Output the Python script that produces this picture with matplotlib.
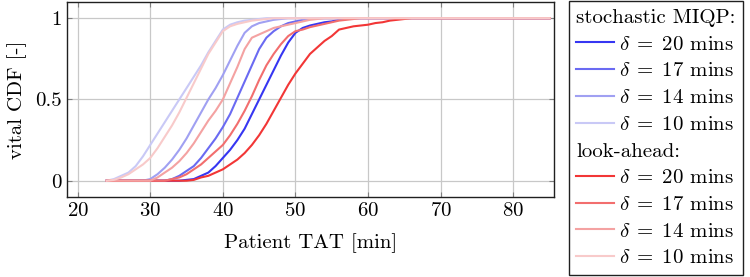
import matplotlib
matplotlib.use("Agg")
import matplotlib.pyplot as plt
from matplotlib.lines import Line2D

plt.rcParams["font.family"] = "cmr10"
plt.rcParams["mathtext.fontset"] = "cm"
plt.rcParams["axes.formatter.use_mathtext"] = True
plt.rcParams["font.size"] = 15

# patient turnaround time grid [min]
tat = [24, 25, 26, 27, 28, 29, 30, 31, 32, 33, 34, 35, 36, 37, 38, 39, 40,
       41, 42, 43, 44, 45, 46, 47, 48, 49, 50, 51, 52, 53, 54, 55, 56, 57,
       58, 59, 60, 61, 62, 63, 64, 65, 66, 85]

# stochastic MIQP
miqp_20 = [0, 0, 0, 0, 0, 0, 0, 0, 0, 0, 0, 0.005, 0.01, 0.03, 0.05, 0.09,
           0.14, 0.19, 0.25, 0.32, 0.41, 0.50, 0.59, 0.68, 0.77, 0.85, 0.91,
           0.94, 0.955, 0.965, 0.975, 0.98, 0.99, 0.995, 1, 1, 1, 1, 1, 1, 1,
           1, 1, 1]
miqp_17 = [0, 0, 0, 0, 0, 0, 0, 0, 0, 0.01, 0.03, 0.06, 0.09, 0.14, 0.20,
           0.26, 0.33, 0.41, 0.51, 0.61, 0.71, 0.81, 0.88, 0.92, 0.95, 0.97,
           0.98, 0.99, 0.995, 1, 1, 1, 1, 1, 1, 1, 1, 1, 1, 1, 1, 1, 1, 1]
miqp_14 = [0, 0, 0, 0, 0, 0, 0.01, 0.04, 0.08, 0.13, 0.19, 0.26, 0.34, 0.42,
           0.50, 0.57, 0.65, 0.74, 0.83, 0.91, 0.95, 0.97, 0.98, 0.99, 0.995,
           1, 1, 1, 1, 1, 1, 1, 1, 1, 1, 1, 1, 1, 1, 1, 1, 1, 1, 1]
miqp_10 = [0, 0.01, 0.03, 0.05, 0.09, 0.15, 0.22, 0.29, 0.36, 0.43, 0.50,
           0.57, 0.64, 0.71, 0.79, 0.86, 0.93, 0.96, 0.975, 0.985, 0.99,
           0.995, 1, 1, 1, 1, 1, 1, 1, 1, 1, 1, 1, 1, 1, 1, 1, 1, 1, 1, 1, 1,
           1, 1]

# look-ahead
la_20 = [0, 0, 0, 0, 0, 0, 0, 0, 0, 0, 0, 0, 0.005, 0.02, 0.03, 0.05, 0.07,
         0.10, 0.13, 0.17, 0.22, 0.28, 0.35, 0.43, 0.51, 0.59, 0.66, 0.72,
         0.78, 0.82, 0.86, 0.89, 0.93, 0.94, 0.95, 0.955, 0.96, 0.97, 0.975,
         0.985, 0.99, 0.995, 1, 1]
la_17 = [0, 0, 0, 0, 0, 0, 0, 0, 0, 0.01, 0.02, 0.04, 0.07, 0.10, 0.14, 0.18,
         0.22, 0.28, 0.35, 0.43, 0.52, 0.62, 0.71, 0.78, 0.84, 0.89, 0.92,
         0.93, 0.945, 0.955, 0.965, 0.975, 0.985, 0.99, 0.995, 1, 1, 1, 1, 1,
         1, 1, 1, 1]
la_14 = [0, 0, 0, 0, 0, 0, 0, 0.02, 0.05, 0.08, 0.12, 0.17, 0.23, 0.30, 0.37,
         0.43, 0.50, 0.60, 0.70, 0.81, 0.88, 0.90, 0.92, 0.94, 0.95, 0.96,
         0.97, 0.98, 0.99, 0.995, 1, 1, 1, 1, 1, 1, 1, 1, 1, 1, 1, 1, 1, 1]
la_10 = [0, 0.005, 0.02, 0.04, 0.07, 0.10, 0.14, 0.20, 0.27, 0.34, 0.42, 0.51,
         0.60, 0.69, 0.78, 0.85, 0.92, 0.95, 0.965, 0.975, 0.985, 0.99,
         0.995, 1, 1, 1, 1, 1, 1, 1, 1, 1, 1, 1, 1, 1, 1, 1, 1, 1, 1, 1, 1, 1]

deltas = [20, 17, 14, 10]
miqp = [miqp_20, miqp_17, miqp_14, miqp_10]
lookahead = [la_20, la_17, la_14, la_10]
blues = ["#3636f2", "#6a6af2", "#a0a0f2", "#c9c9f6"]
reds = ["#f23636", "#f26e6e", "#f4a2a2", "#f8caca"]

fig = plt.figure(figsize=(7.5, 2.77), dpi=100)
ax = fig.add_axes([0.089, 0.289, 0.6496, 0.704])

handles, labels = [], []
handles.append(Line2D([], [], linestyle="none"))
labels.append("stochastic MIQP:")
for d, ys, c in zip(deltas, miqp, blues):
    ln, = ax.plot(tat, ys, color=c, lw=1.5)
    handles.append(ln)
    labels.append(rf"$\delta\;=\;{d}$ mins")
handles.append(Line2D([], [], linestyle="none"))
labels.append("look-ahead:")
for d, ys, c in zip(deltas, lookahead, reds):
    ln, = ax.plot(tat, ys, color=c, lw=1.5)
    handles.append(ln)
    labels.append(rf"$\delta\;=\;{d}$ mins")

ax.set_xlim(18.5, 85.6)
ax.set_ylim(-0.1, 1.1)
ax.set_xticks([20, 30, 40, 50, 60, 70, 80])
ax.set_yticks([0, 0.5, 1])
ax.set_yticklabels(["0", "0.5", "1"])
ax.grid(True, color="#c8c8c8", lw=0.9)
ax.set_axisbelow(True)
ax.tick_params(direction="in", top=True, right=True, color="#808080",
               length=3.5)
for sp in ax.spines.values():
    sp.set_color("#202020")
    sp.set_linewidth(1.0)

ax.set_xlabel("Patient TAT [min]", labelpad=10)
ax.set_ylabel("vital CDF [-]", labelpad=6)

leg = fig.legend(handles, labels, loc="upper left",
                 bbox_to_anchor=(569 / 750, 0.996), frameon=True,
                 fancybox=False, edgecolor="#202020", framealpha=1,
                 handlelength=1.8, handletextpad=0.25, labelspacing=0.39,
                 borderpad=0.35, borderaxespad=0)
leg.get_frame().set_linewidth(1.0)

# header rows: drop the empty handle space
for col in leg._legend_handle_box.get_children():
    for i, row in enumerate(col.get_children()):
        if i in (0, 5):
            row.get_children()[0].set_width(0)
            row.sep = 0

fig.savefig("out.png", dpi=100)
